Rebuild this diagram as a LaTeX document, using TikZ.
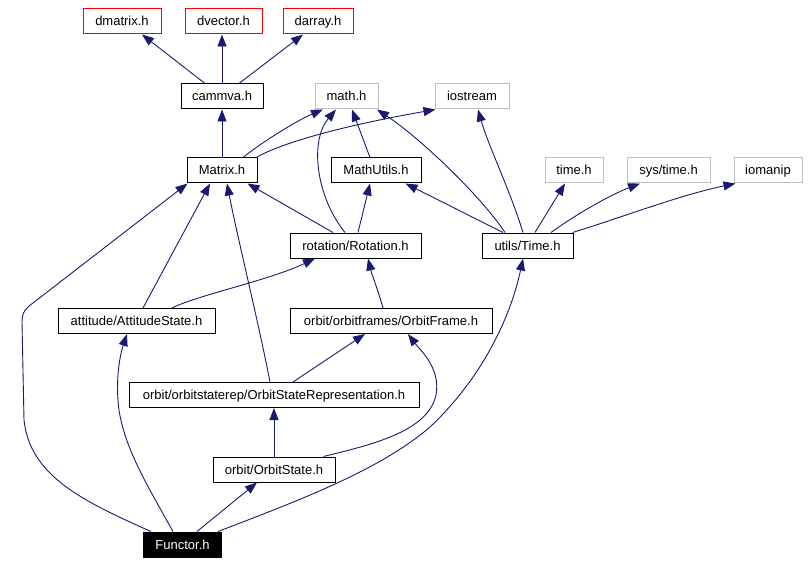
\documentclass[tikz,border=0pt]{standalone}
\usepackage{fontspec}
\setmainfont{Liberation Sans}
\usetikzlibrary{arrows.meta}
\definecolor{edgeblue}{RGB}{25,25,112}
\definecolor{sysgray}{RGB}{191,191,191}
\begin{document}
\begin{tikzpicture}[x=1pt,y=-1pt,
  box/.style={draw=black, rectangle, inner sep=0pt, line width=1pt,
    minimum height=25pt, text height=10pt, text depth=1pt,
    font=\fontsize{13}{15}\selectfont},
  sysbox/.style={box, draw=sysgray},
  redbox/.style={box, draw=red},
  mainbox/.style={box, fill=black, text=white},
  edge/.style={draw=edgeblue, line width=0.9pt,
    -{Triangle[length=12pt,width=9pt]}}]
\useasboundingbox (0,0) rectangle (808,564);

% nodes
\node[redbox, minimum width=78pt] (dmatrix) at (122,21.5) {dmatrix.h};
\node[redbox, minimum width=77pt] (dvector) at (223.5,21.5) {dvector.h};
\node[redbox, minimum width=70pt] (darray) at (318,21.5) {darray.h};
\node[box, minimum width=82pt] (cammva) at (222,96.5) {cammva.h};
\node[sysbox, minimum width=63pt] (math) at (346.5,96.5) {math.h};
\node[sysbox, minimum width=74pt] (iostream) at (472,96.5) {iostream};
\node[box, minimum width=70pt] (Matrix) at (222,170.5) {Matrix.h};
\node[box, minimum width=90pt] (MathUtils) at (376,170.5) {MathUtils.h};
\node[sysbox, minimum width=58pt] (timeh) at (574,170.5) {time.h};
\node[sysbox, minimum width=83pt] (systime) at (668.5,170.5) {sys/time.h};
\node[sysbox, minimum width=68pt] (iomanip) at (768,170.5) {iomanip};
\node[box, minimum width=131pt] (Rotation) at (355.5,245.5) {rotation/Rotation.h};
\node[box, minimum width=91pt] (Time) at (527.5,245.5) {utils/Time.h};
\node[box, minimum width=157pt] (Att) at (136.5,321) {attitude/AttitudeState.h};
\node[box, minimum width=202pt] (Frame) at (391,321) {orbit/orbitframes/OrbitFrame.h};
\node[box, minimum width=290pt] (Rep) at (274,395) {orbit/orbitstaterep/OrbitStateRepresentation.h};
\node[box, minimum width=122pt] (OState) at (274,469.5) {orbit/OrbitState.h};
\node[mainbox, minimum width=78pt] (Functor) at (182.5,544.5) {Functor.h};

% edges
\draw[edge] ([xshift=-17pt]cammva.north) -- ([xshift=20pt]dmatrix.south);
\draw[edge] (cammva.north) -- (cammva.north |- dvector.south);
\draw[edge] ([xshift=17pt]cammva.north) -- ([xshift=-15pt]darray.south);

\draw[edge] (Matrix.north) -- (cammva.south);
\draw[edge] ([xshift=21pt]Matrix.north) .. controls (262,142) and (298,120) .. ([xshift=-23.5pt]math.south);
\draw[edge] ([xshift=-1pt]Matrix.north east) .. controls (275,146) and (330,128) .. ([xshift=1pt]iostream.south west);

\draw[edge] ([xshift=-6pt]MathUtils.north) -- ([xshift=5.5pt]math.south);

\draw[edge] ([xshift=-10.5pt]Rotation.north) .. controls (315,195) and (310,140) .. ([xshift=-10.5pt]math.south);
\draw[edge] ([xshift=-22.5pt]Rotation.north) -- ([xshift=-10pt]Matrix.south east);
\draw[edge] ([xshift=2.5pt]Rotation.north) -- ([xshift=-6pt]MathUtils.south);

\draw[edge] ([xshift=-22.5pt]Time.north) .. controls (480,195) and (420,138) .. ([xshift=30.5pt]math.south);
\draw[edge] ([xshift=-4.5pt]Time.north) .. controls (510,190) and (488,145) .. ([xshift=6pt]iostream.south);
\draw[edge] ([xshift=-24.5pt]Time.north) -- ([xshift=-16pt]MathUtils.south east);
\draw[edge] ([xshift=7.5pt]Time.north) -- ([xshift=-9pt]timeh.south);
\draw[edge] ([xshift=23.5pt]Time.north) .. controls (575,215) and (610,195) .. ([xshift=-28.5pt]systime.south);
\draw[edge] ([xshift=-1pt]Time.north east) .. controls (620,218) and (680,195) .. ([xshift=2pt]iomanip.south west);

\draw[edge] ([xshift=6.5pt]Att.north) -- ([xshift=-12pt]Matrix.south);
\draw[edge] ([xshift=35.5pt]Att.north) .. controls (195,296) and (270,280) .. ([xshift=-40.5pt]Rotation.south);

\draw[edge] ([xshift=-8pt]Frame.north) .. controls (378,290) and (372,275) .. ([xshift=12.5pt]Rotation.south);

\draw[edge] ([xshift=-4pt]Rep.north) .. controls (258,320) and (238,240) .. ([xshift=5pt]Matrix.south);
\draw[edge] ([xshift=19pt]Rep.north) -- ([xshift=-26pt]Frame.south);

\draw[edge] (OState.north) -- (Rep.south);
\draw[edge] ([xshift=-12pt]OState.north east) .. controls (370,445) and (428,432) .. (436,395)
  .. controls (441,368) and (420,350) .. ([xshift=17pt]Frame.south);

\draw[edge] ([xshift=8pt]Functor.north west) .. controls (80,500) and (30,475) .. (24,420)
  -- (22,322) .. controls (22,312) and (26,308) .. (33,303) -- ([xshift=1pt]Matrix.south west);
\draw[edge] ([xshift=-9.5pt]Functor.north) .. controls (150,490) and (125,450) .. (119,410)
  .. controls (115,380) and (120,355) .. ([xshift=-9.5pt]Att.south);
\draw[edge] ([xshift=14.5pt]Functor.north) -- ([xshift=-17pt]OState.south);
\draw[edge] ([xshift=35.5pt]Functor.north) .. controls (300,500) and (380,470) .. (430,427)
  .. controls (480,380) and (510,320) .. ([xshift=-4.5pt]Time.south);
\end{tikzpicture}
\end{document}
